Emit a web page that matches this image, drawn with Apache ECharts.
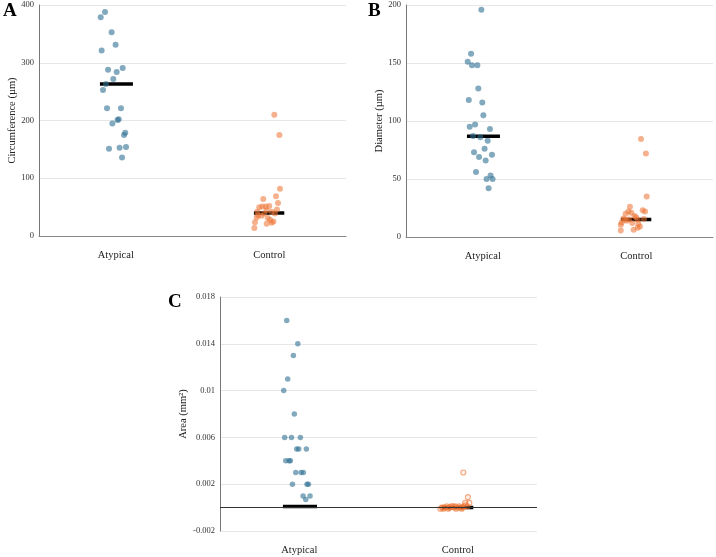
<!DOCTYPE html>
<html>
<head>
<meta charset="utf-8">
<script src="https://cdn.jsdelivr.net/npm/echarts@6/dist/echarts.min.js"></script>
<style>
  html, body { margin: 0; padding: 0; background: #fff; }
  #chart { width: 716px; height: 557px; }
</style>
</head>
<body>
<div id="chart"></div>
<script>
// groups on the x axis (placed at 0.5 and 1.5 of a 0..2 value axis)
const categories = ["Atypical", "Control"];

// A: circumference (µm)
const aAtyX = [0.43, 0.402, 0.473, 0.499, 0.408, 0.45, 0.506, 0.545, 0.484, 0.436, 0.417, 0.443, 0.534, 0.512, 0.519, 0.478, 0.562, 0.554, 0.456, 0.525, 0.567, 0.541];
const aAtyY = [388, 379, 353, 331, 321, 288, 284, 291, 272, 263, 253, 221, 221, 201, 202, 195, 179, 175, 151, 153, 154, 136];
const aConX = [1.533, 1.566, 1.57, 1.544, 1.557, 1.461, 1.55, 1.435, 1.455, 1.477, 1.5, 1.422, 1.483, 1.516, 1.537, 1.428, 1.418, 1.45, 1.49, 1.505, 1.516, 1.527, 1.407, 1.483, 1.403, 1.466];
const aConY = [210, 175, 82, 69, 57, 64, 46, 50, 51, 51, 52, 42, 44, 42, 39, 36, 32, 35, 31, 28, 23, 25, 24, 21, 14, 39];
const aMedian = [263, 40];

// B: diameter (µm)
const bAtyX = [0.491, 0.424, 0.402, 0.43, 0.465, 0.471, 0.409, 0.497, 0.504, 0.415, 0.45, 0.547, 0.437, 0.484, 0.532, 0.512, 0.443, 0.476, 0.56, 0.519, 0.456, 0.551, 0.525, 0.564, 0.538];
const bAtyY = [196, 158, 151, 148, 148, 128, 118, 116, 105, 95, 97, 93, 87, 86, 83, 76, 73, 69, 71, 66, 56, 53, 50, 50, 42];
const bConX = [1.531, 1.563, 1.568, 1.459, 1.542, 1.557, 1.449, 1.468, 1.431, 1.488, 1.498, 1.416, 1.509, 1.55, 1.453, 1.405, 1.438, 1.474, 1.514, 1.399, 1.524, 1.509, 1.483, 1.399, 1.423];
const bConY = [84.5, 72, 35, 26, 23, 22, 22, 21, 20, 18, 17, 16, 15, 15.5, 15, 12.6, 14, 12, 11.5, 10.6, 9, 8, 6.3, 5.7, 15];
const bMedian = [86.8, 15];

// C: area (mm²)
const cAtyX = [0.421, 0.491, 0.463, 0.427, 0.402, 0.469, 0.408, 0.451, 0.507, 0.484, 0.497, 0.545, 0.415, 0.436, 0.444, 0.478, 0.512, 0.526, 0.457, 0.549, 0.558, 0.524, 0.541, 0.568];
const cAtyY = [0.016, 0.014, 0.013, 0.011, 0.01, 0.008, 0.006, 0.006, 0.006, 0.005, 0.005, 0.005, 0.004, 0.004, 0.004, 0.003, 0.003, 0.003, 0.002, 0.002, 0.002, 0.001, 0.0007, 0.001];
const cConX = [1.535, 1.564, 1.547, 1.573, 1.39, 1.4, 1.41, 1.42, 1.43, 1.44, 1.45, 1.46, 1.47, 1.48, 1.49, 1.5, 1.51, 1.52, 1.53, 1.54, 1.55, 1.56, 1.405, 1.445, 1.485, 1.525];
const cConY = [0.003, 0.0009, 0.0004, 0.0004, -0.0001, 0, -0.0001, 0, 0.0001, -0.0001, 0, 0.0001, 0.0001, 0, -0.0001, 0, 0.0001, 0, 0, 0.0001, 0.0002, 0.0001, 0, 0, 0.0001, -0.0001];
const cMedian = [0.0001, 0];

// median bar extents along x, per group
const medianSpan = [[0.397, 0.612], [1.4, 1.598]];

const yNames = ["Circumference (µm)", "Diameter (µm)", "Area (mm²)"];
const panelLetters = ["A", "B", "C"];

const FONT = '"Liberation Serif", "Times New Roman", serif';
const BLUE = "rgba(47, 111, 147, 0.75)";
const ORANGE = "rgba(238, 116, 52, 0.7)";

const chart = echarts.init(document.getElementById("chart"));

function pairs(xs, ys) {
  return xs.map((x, i) => [x, ys[i]]);
}

function medianLines(idx, med) {
  return med.map((m, g) => ({
    type: "line",
    xAxisIndex: idx,
    yAxisIndex: idx,
    data: [[medianSpan[g][0], m], [medianSpan[g][1], m]],
    showSymbol: false,
    symbol: "none",
    silent: true,
    z: 2,
    lineStyle: { color: "#000", width: 3.5 },
  }));
}

function xAxis(idx, showLine) {
  return {
    type: "value",
    gridIndex: idx,
    min: 0,
    max: 2,
    interval: 0.5,
    axisLine: { show: showLine, onZero: false, lineStyle: { color: "#888" } },
    axisTick: { show: false },
    splitLine: { show: false },
    axisLabel: {
      margin: 14,
      fontFamily: FONT,
      fontSize: 10.5,
      color: "#222",
      formatter: (v) => (v === 0.5 ? categories[0] : v === 1.5 ? categories[1] : ""),
    },
  };
}

function yAxis(idx, min, max, interval, gap, fmt) {
  return {
    type: "value",
    gridIndex: idx,
    min: min,
    max: max,
    interval: interval,
    name: yNames[idx],
    nameLocation: "center",
    nameGap: gap,
    nameTextStyle: { fontFamily: FONT, fontSize: 10.5, color: "#222" },
    axisLine: { show: true, lineStyle: { color: "#777" } },
    axisTick: { show: false },
    splitLine: { lineStyle: { color: "#e6e6e6" } },
    axisLabel: {
      margin: 5,
      fontFamily: FONT,
      fontSize: 8.5,
      color: "#333",
      formatter: fmt,
    },
  };
}

chart.setOption({
  animation: false,
  grid: [
    { left: 39, top: 5, width: 307, height: 231 },
    { left: 406, top: 5, width: 308, height: 232 },
    { left: 220, top: 297, width: 317, height: 234 },
  ],
  xAxis: [xAxis(0, true), xAxis(1, true), xAxis(2, false)],
  yAxis: [
    yAxis(0, 0, 400, 100, 19),
    yAxis(1, 0, 200, 50, 19),
    yAxis(2, -0.002, 0.018, 0.004, 25, (v) => String(+v.toFixed(3))),
  ],
  graphic: [
    { type: "text", left: 3, top: 2, style: { text: panelLetters[0], font: 'bold 19px ' + FONT, fill: "#000" } },
    { type: "text", left: 368, top: 2, style: { text: panelLetters[1], font: 'bold 19px ' + FONT, fill: "#000" } },
    { type: "text", left: 168, top: 293, style: { text: panelLetters[2], font: 'bold 19px ' + FONT, fill: "#000" } },
  ],
  series: [
    ...medianLines(0, aMedian),
    { type: "scatter", xAxisIndex: 0, yAxisIndex: 0, data: pairs(aAtyX, aAtyY), symbolSize: 6, z: 3, itemStyle: { color: BLUE } },
    { type: "scatter", xAxisIndex: 0, yAxisIndex: 0, data: pairs(aConX, aConY), symbolSize: 6, z: 3, itemStyle: { color: ORANGE } },
    ...medianLines(1, bMedian),
    { type: "scatter", xAxisIndex: 1, yAxisIndex: 1, data: pairs(bAtyX, bAtyY), symbolSize: 6, z: 3, itemStyle: { color: BLUE } },
    { type: "scatter", xAxisIndex: 1, yAxisIndex: 1, data: pairs(bConX, bConY), symbolSize: 6, z: 3, itemStyle: { color: ORANGE } },
    ...medianLines(2, cMedian),
    {
      type: "scatter", xAxisIndex: 2, yAxisIndex: 2, data: pairs(cAtyX, cAtyY), symbolSize: 5.5, z: 3,
      itemStyle: { color: BLUE },
      markLine: {
        silent: true,
        symbol: ["none", "none"], // zero line across the panel
        label: { show: false },
        lineStyle: { type: "solid", color: "#333", width: 1 },
        data: [{ yAxis: 0 }],
      },
    },
    {
      type: "scatter", xAxisIndex: 2, yAxisIndex: 2, data: pairs(cConX, cConY), symbolSize: 5, z: 3,
      itemStyle: { color: "rgba(238, 116, 52, 0.12)", borderColor: "rgba(238, 116, 52, 0.75)", borderWidth: 1.2 },
    },
  ],
});
</script>
</body>
</html>
